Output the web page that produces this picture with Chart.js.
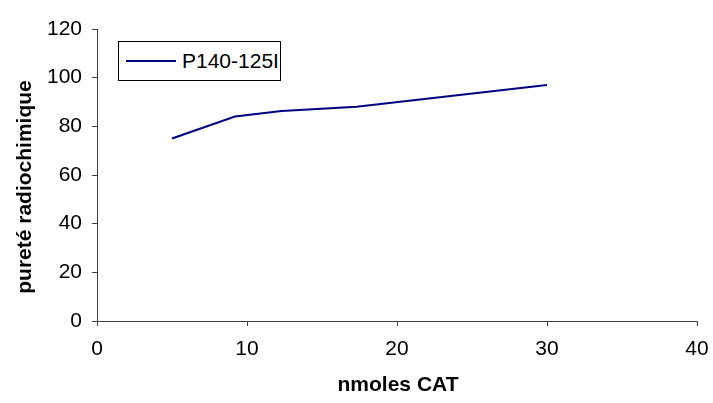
<!DOCTYPE html>
<html>
<head>
<meta charset="utf-8">
<script src="https://cdn.jsdelivr.net/npm/chart.js@4/dist/chart.umd.min.js"></script>
<style>
  html, body { margin: 0; padding: 0; background: #fff; }
  #wrap { position: relative; width: 713px; height: 403px; }
  #legend { position: absolute; left: 118px; top: 41px; width: 161px; height: 38px;
    border: 1px solid #000; background: #fff; display: flex; align-items: center;
    font-family: "Liberation Sans", Arial, sans-serif; font-size: 21px; color: #000; box-sizing: content-box; }
  #legend .sw { display: inline-block; width: 50px; height: 2px; margin-left: 7px; margin-right: 6px; }
</style>
</head>
<body>
<div id="wrap">
  <canvas id="c" width="713" height="403"></canvas>
  <div id="legend"></div>
</div>
<script>
// Data
const seriesName = "P140-125I";
const xValues = [5, 9.2, 12.3, 17.3, 30];
const yValues = [75, 84, 86.3, 88, 97];
const xTicks = [0, 10, 20, 30, 40];
const yTicks = [0, 20, 40, 60, 80, 100, 120];
const xTitle = "nmoles CAT";
const yTitle = "pureté radiochimique";
const lineColor = "#000080";

const points = xValues.map((x, i) => ({ x: x, y: yValues[i] }));
const fontFamily = '"Liberation Sans", Arial, sans-serif';

// Axis titles drawn relative to the chart area
const axisTitles = {
  id: 'axisTitles',
  afterDraw(chart) {
    const ctx = chart.ctx, a = chart.chartArea;
    ctx.save();
    ctx.fillStyle = '#000';
    ctx.font = 'bold 21px ' + fontFamily;
    ctx.textAlign = 'center';
    ctx.textBaseline = 'middle';
    ctx.fillText(xTitle, (a.left + a.right) / 2 + 1, a.bottom + 64);
    ctx.translate(25, (a.top + a.bottom) / 2 + 12);
    ctx.rotate(-Math.PI / 2);
    ctx.fillText(yTitle, 0, 0);
    ctx.restore();
  }
};

const chart = new Chart(document.getElementById('c'), {
  type: 'line',
  data: {
    datasets: [{
      label: seriesName,
      data: points,
      borderColor: lineColor,
      backgroundColor: lineColor,
      borderWidth: 2,
      pointRadius: 0,
      tension: 0,
      fill: false
    }]
  },
  options: {
    responsive: false,
    animation: false,
    devicePixelRatio: 1,
    layout: { padding: { left: 0, right: 16, top: 29, bottom: 0 } },
    plugins: { legend: { display: false }, tooltip: { enabled: false } },
    scales: {
      x: {
        type: 'linear',
        min: xTicks[0], max: xTicks[xTicks.length - 1],
        afterBuildTicks: s => { s.ticks = xTicks.map(v => ({ value: v })); },
        afterFit: s => { s.height = 82; s.paddingLeft = 0; s.paddingRight = 0; },
        border: { display: true, color: '#404040', width: 1 },
        grid: { drawOnChartArea: false, drawTicks: true, tickLength: 5, color: '#404040' },
        ticks: { color: '#000', font: { family: fontFamily, size: 21 }, padding: 11, maxRotation: 0 }
      },
      y: {
        type: 'linear',
        min: yTicks[0], max: yTicks[yTicks.length - 1],
        afterBuildTicks: s => { s.ticks = yTicks.map(v => ({ value: v })); },
        afterFit: s => { s.width = 97; s.paddingTop = 0; s.paddingBottom = 0; },
        border: { display: true, color: '#404040', width: 1 },
        grid: { drawOnChartArea: false, drawTicks: true, tickLength: 5, color: '#404040' },
        ticks: { color: '#000', font: { family: fontFamily, size: 21 }, padding: 10 }
      }
    }
  },
  plugins: [axisTitles]
});

// HTML legend built from the dataset
const lg = document.getElementById('legend');
chart.data.datasets.forEach(ds => {
  const sw = document.createElement('span');
  sw.className = 'sw';
  sw.style.background = ds.borderColor;
  const tx = document.createElement('span');
  tx.textContent = ds.label;
  lg.appendChild(sw);
  lg.appendChild(tx);
});
</script>
</body>
</html>
